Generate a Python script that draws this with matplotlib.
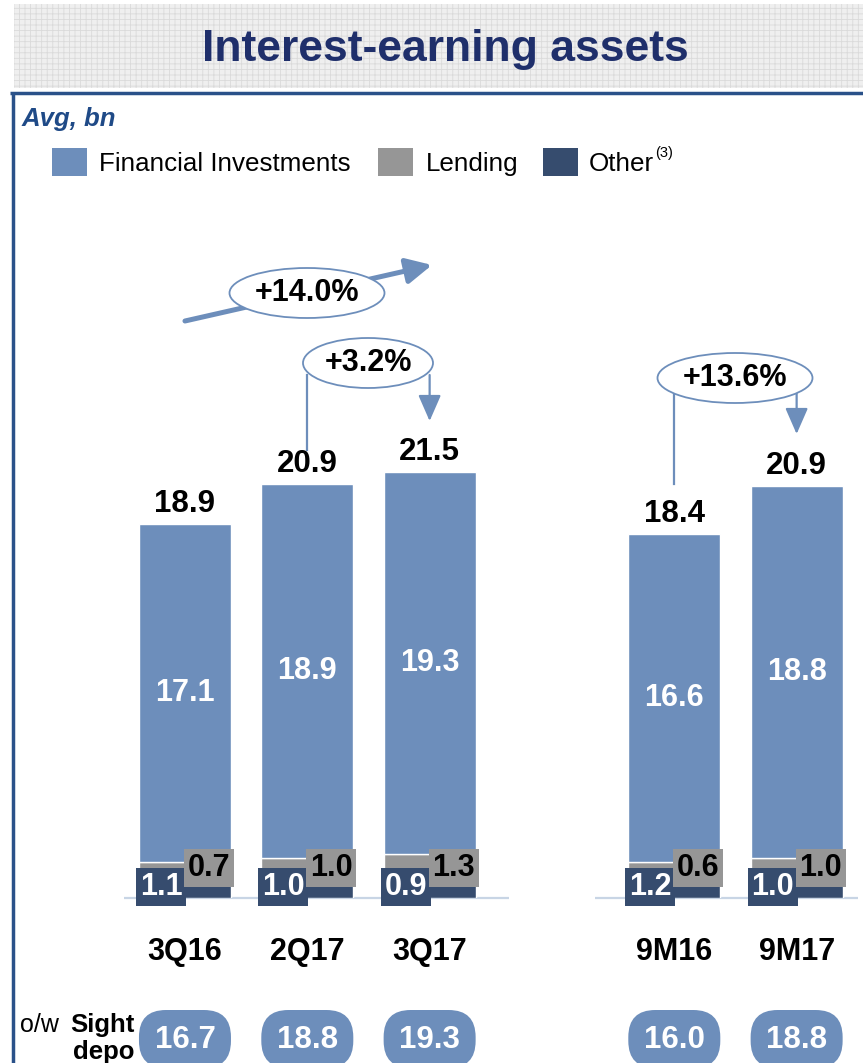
import matplotlib
matplotlib.use('Agg')
import matplotlib.pyplot as plt
from matplotlib.patches import Ellipse, FancyBboxPatch, Rectangle
from matplotlib import font_manager as fm

# ---------------- data ----------------
categories = ['3Q16', '2Q17', '3Q17', '9M16', '9M17']
positions = [0, 1, 2, 4, 5]
financial = [17.1, 18.9, 19.3, 16.6, 18.8]
lending = [0.7, 1.0, 1.3, 0.6, 1.0]
other = [1.1, 1.0, 0.9, 1.2, 1.0]
totals = [18.9, 20.9, 21.5, 18.4, 20.9]
sight_depo = [16.7, 18.8, 19.3, 16.0, 18.8]
growth_labels = ['+14.0%', '+3.2%', '+13.6%']
series_names = ['Financial Investments', 'Lending', 'Other']

# ---------------- style ----------------
C_FIN = '#6d8ebb'
C_LEN = '#969696'
C_OTH = '#364c6e'
C_TITLE = '#1f2f6b'
C_FRAME = '#2a5189'
C_AXIS = '#c8d5e5'

names = {f.name for f in fm.fontManager.ttflist}
BASE = 'Liberation Sans' if 'Liberation Sans' in names else 'DejaVu Sans'
NARROW = 'Liberation Sans Narrow' if 'Liberation Sans Narrow' in names else BASE
IS_NARROW = NARROW != BASE
plt.rcParams['font.family'] = [BASE, 'DejaVu Sans']
plt.rcParams['hatch.linewidth'] = 0.6

W, H = 863, 1063
fig = plt.figure(figsize=(W / 100, H / 100), dpi=100)

# decoration axes in pixel coordinates (origin top-left)
deco = fig.add_axes([0, 0, 1, 1], zorder=0)
deco.set_xlim(0, W)
deco.set_ylim(H, 0)
deco.axis('off')

# main chart axes
BASE_Y = 898          # pixel row of the baseline
PX_PER_UNIT = 19.8
YMAX = 33
left_px, right_px = 123.8, 857.8
ax = fig.add_axes([left_px / W, (H - BASE_Y) / H, (right_px - left_px) / W,
                   YMAX * PX_PER_UNIT / H], zorder=1)
ax.patch.set_alpha(0)
ax.set_xlim(-0.5, 5.5)
ax.set_ylim(0, YMAX)
ax.axis('off')

bw = 0.752
bottoms_len = other
bottoms_fin = [o + l for o, l in zip(other, lending)]
ax.bar(positions, other, width=bw, color=C_OTH, edgecolor='white', linewidth=1.0, zorder=2)
ax.bar(positions, lending, bottom=bottoms_len, width=bw, color=C_LEN, edgecolor='white', linewidth=1.0, zorder=2)
ax.bar(positions, financial, bottom=bottoms_fin, width=bw, color=C_FIN, edgecolor='white', linewidth=1.0, zorder=2)

# baseline
ax.hlines(0, -0.5, 2.65, color=C_AXIS, lw=1.6, zorder=1, clip_on=False)
ax.hlines(0, 3.35, 5.5, color=C_AXIS, lw=1.6, zorder=1, clip_on=False)

for p, f, l, o, t, c in zip(positions, financial, lending, other, totals, categories):
    top = o + l + f
    ax.annotate(f'{t:.1f}', xy=(p, top), xytext=(0, 12), textcoords='offset pixels',
                ha='center', va='baseline', fontsize=22.5, fontweight='bold', color='black')
    ax.text(p, o + l + f / 2, f'{f:.1f}', ha='center', va='center', fontsize=22,
            fontweight='bold', color='white', zorder=3)
    ax.annotate(f'{o:.1f}', xy=(p, 0), xytext=(-24, 11), textcoords='offset pixels',
                ha='center', va='center', fontsize=22, fontweight='bold', color='white',
                bbox=dict(boxstyle='square,pad=0.12', fc=C_OTH, ec='none'), zorder=4)
    ax.annotate(f'{l:.1f}', xy=(p, 0), xytext=(24, 30), textcoords='offset pixels',
                ha='center', va='center', fontsize=22, fontweight='bold', color='black',
                bbox=dict(boxstyle='square,pad=0.12', fc=C_LEN, ec='none'), zorder=5)
    ax.annotate(c, xy=(p, 0), xytext=(0, -62), textcoords='offset pixels',
                ha='center', va='baseline', fontsize=22, fontweight='bold', color='black')

def px(p):
    return ax.transData.transform((p, 0))[0]

# ---------------- title banner ----------------
deco.add_patch(Rectangle((14, 4), W - 14, 84, facecolor='#efefef', edgecolor='#dadada',
                         hatch='+++', lw=0, zorder=0))
deco.text(W / 2 + 14, 50, 'Interest-earning assets', ha='center', va='center',
          fontsize=32, fontweight='bold', color=C_TITLE, family=[BASE, 'DejaVu Sans'])

# frame
deco.plot([10, W], [93, 93], color=C_FRAME, lw=2.5, solid_capstyle='butt')
deco.plot([13, 13], [92, H], color=C_FRAME, lw=2.5, solid_capstyle='butt')

deco.text(22, 126, 'Avg, bn', ha='left', va='baseline', fontsize=18.5, fontweight='bold',
          fontstyle='italic', color='#1f4a87')

# legend
leg_items = [(52, 99, C_FIN, series_names[0]), (378, 426, C_LEN, series_names[1]),
             (543, 589, C_OTH, series_names[2])]
for xs, xt, col, name in leg_items:
    deco.add_patch(Rectangle((xs, 148), 35, 28, facecolor=col, edgecolor='none'))
    deco.text(xt, 171, name, ha='left', va='baseline', fontsize=18.7, color='black')
deco.text(655, 157, '(3)', ha='left', va='baseline', fontsize=10.5, color='black')

# ---------------- growth annotations ----------------
lw_line = 1.6
# +14.0% overall arrow
deco.annotate('', xy=(432, 265), xytext=(px(0), 321),
              arrowprops=dict(arrowstyle='-|>,head_length=0.7,head_width=0.35', color=C_FIN,
                              lw=3.6, mutation_scale=22, shrinkA=0, shrinkB=0))
deco.add_patch(Ellipse((307, 293), 155, 50, facecolor='white', edgecolor=C_FIN, lw=1.3, zorder=3))
deco.text(307, 293, growth_labels[0], ha='center', va='center', fontsize=22,
          fontweight='bold', zorder=4)

# +3.2%
deco.plot([px(1), px(1)], [450, 375], color=C_FIN, lw=lw_line)
deco.annotate('', xy=(px(2), 421), xytext=(px(2), 375),
              arrowprops=dict(arrowstyle='-|>,head_length=0.8,head_width=0.35', color=C_FIN,
                              lw=lw_line, mutation_scale=20, shrinkA=0, shrinkB=0))
deco.add_patch(Ellipse((368, 363), 130, 50, facecolor='white', edgecolor=C_FIN, lw=1.3, zorder=3))
deco.text(368, 363, growth_labels[1], ha='center', va='center', fontsize=22,
          fontweight='bold', zorder=4)

# +13.6%
deco.plot([px(4), px(4)], [484, 385], color=C_FIN, lw=lw_line)
deco.annotate('', xy=(px(5), 434), xytext=(px(5), 385),
              arrowprops=dict(arrowstyle='-|>,head_length=0.8,head_width=0.35', color=C_FIN,
                              lw=lw_line, mutation_scale=20, shrinkA=0, shrinkB=0))
deco.add_patch(Ellipse((735, 378), 155, 50, facecolor='white', edgecolor=C_FIN, lw=1.3, zorder=3))
deco.text(735, 378, growth_labels[2], ha='center', va='center', fontsize=22,
          fontweight='bold', zorder=4)

# ---------------- sight deposits ----------------
deco.text(20, 1032, 'o/w', ha='left', va='baseline', fontsize=18, color='black')
deco.text(70, 1032, 'Sight', ha='left', va='baseline', fontsize=18.5, fontweight='bold')
deco.text(104, 1059, 'depo', ha='center', va='baseline', fontsize=18.5, fontweight='bold')
pill_font = NARROW
pill_size = 25 if IS_NARROW else 22.5
for p, v in zip(positions, sight_depo):
    cx = px(p)
    deco.add_patch(FancyBboxPatch((cx - 46, 1010), 92, 58,
                                  boxstyle='round,pad=0,rounding_size=27',
                                  facecolor=C_FIN, edgecolor='none', clip_on=False))
    deco.text(cx, 1048, f'{v:.1f}', ha='center', va='baseline', fontsize=pill_size,
              fontweight='bold', color='white', family=[pill_font, 'DejaVu Sans'])

fig.savefig('out.png', dpi=100)
